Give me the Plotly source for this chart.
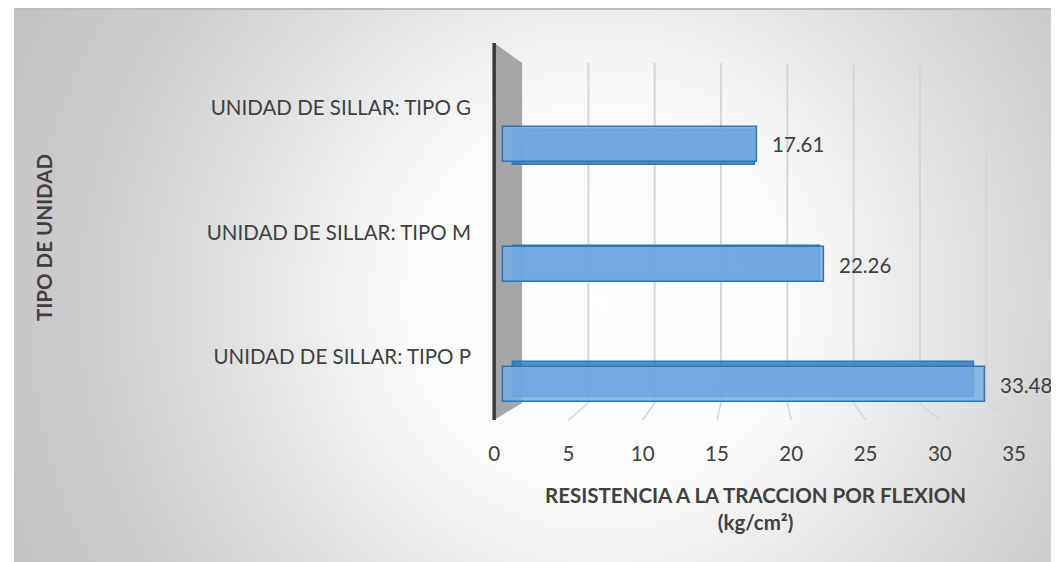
import plotly.graph_objects as go

# datos
categorias = ["UNIDAD DE SILLAR: TIPO P", "UNIDAD DE SILLAR: TIPO M", "UNIDAD DE SILLAR: TIPO G"]
resistencia = [33.48, 22.26, 17.61]
ticks_x = [0, 5, 10, 15, 20, 25, 30, 35]

titulo_x = "RESISTENCIA A LA TRACCION POR FLEXION<br>(kg/cm²)"
titulo_y = "TIPO DE UNIDAD"

# la captura comprime un poco en horizontal: se corrige aqui
OFF = 8
SX, BX = 0.985, 4
FW, FH = 1059, 562
L, R, T, B = 493, 1014, 63, 403      # area de trazado (px de la imagen)
FRAME_Y = 10
FONT = "Lato"
SIZE = 20.5
GRIS = "#404040"

# falso 3D: cada plano tiene su propio origen y escala
back_x = (521, 13.29)     # pared del fondo (rejilla)
face_b = (512, 13.8)      # cara trasera de las barras
face_f = (502, 14.43)     # cara frontal de las barras
front_x = (493, 14.886)   # eje de etiquetas
face_b_y = (379.5, 116)
face_f_y = (384.5, 120)
label_y = (357, 124.5)


def x_range(plane):
    o, s = plane
    return [(L - o) / s, (R - o) / s]


def y_range(plane):
    c0, s = plane
    return [(c0 - B) / s, (c0 - T) / s]


def px(plane, v):
    return plane[0] + plane[1] * v


def fig_x(p):
    return (p - BX) / SX - OFF


def img_x(f):
    return (f + OFF) * SX + BX


def paper_x(p):
    return fig_x(p) / FW


def paper_y(p):
    return 1 - (p - OFF) / FH


fig = go.Figure()

# fondo con degradado radial (lienzo en pixeles de la imagen)
cx, cy, rad = 600, 300, 640
fig.add_trace(go.Scatter(
    x=[cx - rad, cx + rad, cx + rad, cx - rad, cx - rad],
    y=[cy - rad, cy - rad, cy + rad, cy + rad, cy - rad],
    fill="toself", mode="lines", line=dict(width=0),
    fillgradient=dict(type="radial", colorscale=[
        [0, "#ffffff"], [0.3, "#fbfbfb"], [0.6, "#dfdfdf"], [0.8, "#cecece"], [1, "#c2c2c2"]]),
    hoverinfo="skip", showlegend=False, xaxis="x", yaxis="y"))

# rejilla del fondo y del piso
gx, gy, fx, fy = [], [], [], []
for k in ticks_x[1:]:
    gx += [px(back_x, k), px(back_x, k), None]
    gy += [T, B, None]
    fx += [px(back_x, k), px(front_x, k), None]
    fy += [B, 420, None]
fig.add_trace(go.Scatter(x=gx, y=gy, mode="lines", line=dict(color="#d6d6d6", width=2),
                         hoverinfo="skip", showlegend=False, xaxis="x", yaxis="y"))
fig.add_trace(go.Scatter(x=fx, y=fy, mode="lines", line=dict(color="#d6d6d6", width=1.5),
                         hoverinfo="skip", showlegend=False, xaxis="x", yaxis="y"))

# pared lateral y eje vertical
x0f, x0b = px(front_x, 0), px(back_x, 0)
fig.add_trace(go.Scatter(x=[x0f, x0b, x0b, x0f, x0f], y=[43, T, B, 420, 43],
                         fill="toself", mode="lines", line=dict(width=0), fillcolor="#a6a6a6",
                         hoverinfo="skip", showlegend=False, xaxis="x", yaxis="y"))
fig.add_trace(go.Scatter(x=[x0f, x0f], y=[43, 420], mode="lines",
                         line=dict(color="#3a3a3a", width=3.5),
                         hoverinfo="skip", showlegend=False, xaxis="x", yaxis="y"))

# cara trasera de las barras
fig.add_trace(go.Bar(
    x=resistencia, y=categorias, orientation="h", width=0.3,
    marker=dict(color="rgba(46,117,182,0.8)", line=dict(color="#2e75b6", width=1.5)),
    hoverinfo="skip", showlegend=False, xaxis="x2", yaxis="y2"))

# cara frontal de las barras
fig.add_trace(go.Bar(
    x=resistencia, y=categorias, orientation="h", width=0.29,
    marker=dict(color="rgba(118,175,230,0.85)", line=dict(color="#2e75b6", width=1.5)),
    showlegend=False, xaxis="x3", yaxis="y3"))

# traza invisible para el eje de etiquetas
fig.add_trace(go.Scatter(
    x=resistencia, y=categorias, mode="markers", marker=dict(opacity=0),
    hoverinfo="skip", showlegend=False, xaxis="x4", yaxis="y4"))

for v, c in zip(resistencia, categorias):
    fig.add_annotation(x=v, y=c, xref="x3", yref="y3", text=f"{v:.2f}",
                       showarrow=False, xanchor="left", xshift=13,
                       font=dict(family=FONT, size=SIZE, color=GRIS))

fig.add_annotation(x=paper_x(755), y=paper_y(508), xref="paper", yref="paper",
                   xanchor="center", yanchor="middle",
                   text="<b>" + titulo_x.replace("<br>", "</b><br><b>") + "</b>",
                   showarrow=False, font=dict(family=FONT, size=SIZE, color=GRIS))
fig.add_annotation(x=paper_x(42), y=paper_y(238), xref="paper", yref="paper",
                   xanchor="center", yanchor="middle",
                   text=f"<b>{titulo_y}</b>", textangle=-90,
                   showarrow=False, font=dict(family=FONT, size=SIZE, color=GRIS))

dom_x = [paper_x(L), paper_x(R)]
dom_y = [paper_y(B), paper_y(T)]
hidden = dict(visible=False, fixedrange=True)
x_frame = max(0, fig_x(8))

fig.update_layout(
    width=FW, height=FH,
    margin=dict(l=0, r=0, t=0, b=0),
    paper_bgcolor="white",
    plot_bgcolor="rgba(0,0,0,0)",
    font=dict(family=FONT, color=GRIS),
    showlegend=False,
    bargap=0,
    xaxis=dict(domain=[x_frame / FW, 1], range=[img_x(x_frame), img_x(FW)], visible=True,
               showticklabels=False, showgrid=False, zeroline=False, ticks="", showline=True,
               side="top", linecolor="#bdbdbd", linewidth=2, fixedrange=True),
    yaxis=dict(domain=[0, paper_y(FRAME_Y)], range=[OFF + FH, FRAME_Y], **hidden),
    xaxis2=dict(domain=dom_x, range=x_range(face_b), anchor="y2", **hidden),
    yaxis2=dict(domain=dom_y, range=y_range(face_b_y), anchor="x2", type="category",
                categoryarray=categorias, **hidden),
    xaxis3=dict(overlaying="x2", range=x_range(face_f), anchor="y3", **hidden),
    yaxis3=dict(overlaying="y2", range=y_range(face_f_y), anchor="x3", type="category",
                categoryarray=categorias, **hidden),
    xaxis4=dict(overlaying="x2", range=x_range(front_x), anchor="y4",
                tickvals=ticks_x, showgrid=False, zeroline=False, showline=False,
                ticks="outside", ticklen=32, tickcolor="rgba(0,0,0,0)",
                tickfont=dict(family=FONT, size=SIZE, color=GRIS), fixedrange=True),
    yaxis4=dict(overlaying="y2", range=y_range(label_y), anchor="x4", type="category",
                categoryarray=categorias, showgrid=False, zeroline=False, showline=False,
                ticks="outside", ticklen=18, tickcolor="rgba(0,0,0,0)",
                tickfont=dict(family=FONT, size=SIZE, color=GRIS), fixedrange=True),
)

fig.write_html("out.html")
